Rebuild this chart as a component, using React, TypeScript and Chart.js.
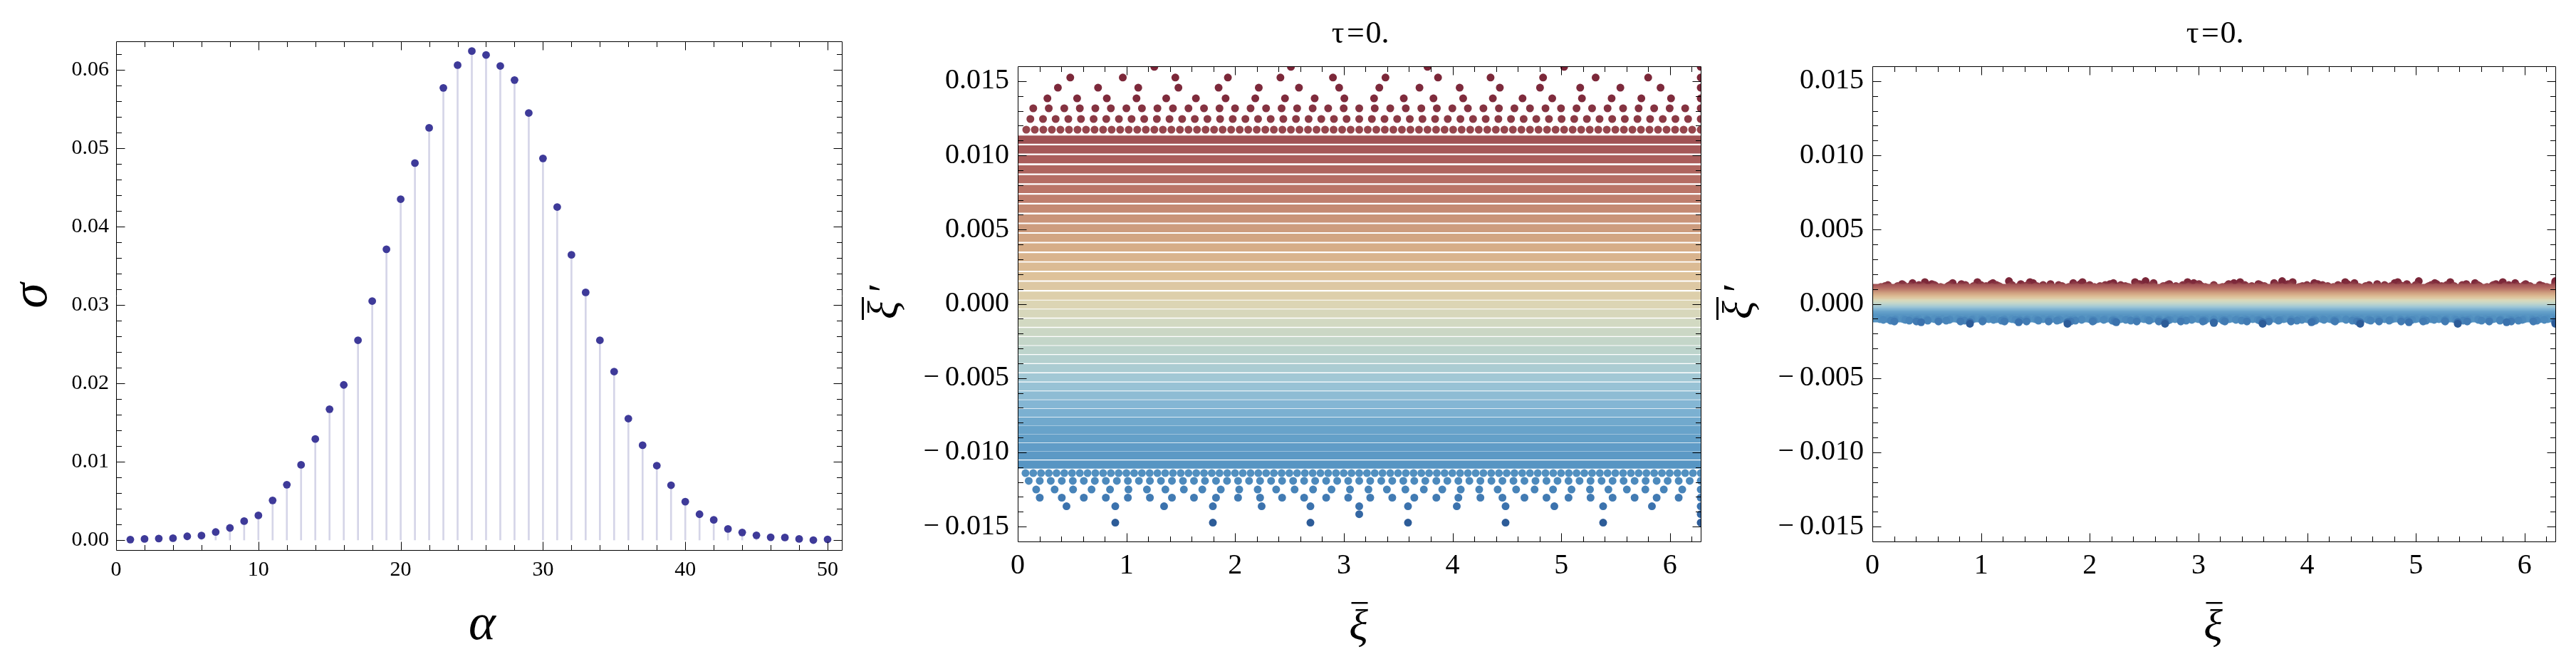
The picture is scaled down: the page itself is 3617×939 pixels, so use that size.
import React, { useEffect, useRef } from "react";
import { Chart, registerables } from "chart.js";

Chart.register(...registerables);

// ---------------- Panel 1 : sigma versus alpha ----------------
const alphaValues = [
  1, 2, 3, 4, 5, 6, 7, 8, 9, 10, 11, 12, 13, 14, 15, 16, 17, 18, 19, 20, 21, 22, 23, 24, 25,
  26, 27, 28, 29, 30, 31, 32, 33, 34, 35, 36, 37, 38, 39, 40, 41, 42, 43, 44, 45, 46, 47, 48, 49, 50,
];
const sigmaValues = [
  0.00006, 0.00015, 0.0002, 0.00024, 0.00048, 0.00058, 0.00103, 0.00155, 0.00242, 0.00315,
  0.00506, 0.00706, 0.0096, 0.0129, 0.0167, 0.0198, 0.0255, 0.0305, 0.0371, 0.0435,
  0.0481, 0.0526, 0.0577, 0.0606, 0.0624, 0.0619, 0.0605, 0.0587, 0.0545, 0.0487,
  0.0425, 0.0364, 0.0316, 0.0255, 0.0215, 0.0155, 0.0121, 0.0095, 0.007, 0.0049,
  0.0033, 0.00258, 0.00142, 0.00097, 0.00061, 0.00036, 0.00033, 0.00015, 0.0, 0.00009,
];
const p1XTicks = [0, 10, 20, 30, 40, 50];
const p1XTickLabels = ["0", "10", "20", "30", "40", "50"];
const p1YTicks = [0, 0.01, 0.02, 0.03, 0.04, 0.05, 0.06];
const p1YTickLabels = ["0.00", "0.01", "0.02", "0.03", "0.04", "0.05", "0.06"];

// ---------------- Panels 2 and 3 : orbits in the (xi, xi') plane ----------------
const xiTicks = [0, 1, 2, 3, 4, 5, 6];
const xiTickLabels = ["0", "1", "2", "3", "4", "5", "6"];
const xiPrimeTicks = [-0.015, -0.01, -0.005, 0, 0.005, 0.01, 0.015];
const xiPrimeTickLabels = [
  "\u2212\u20090.015", "\u2212\u20090.010", "\u2212\u20090.005", "0.000", "0.005", "0.010", "0.015",
];
const panelTitleParts = ["\u03c4", "=", "0."];

// level of each of the 50 orbits (top to bottom), middle panel
const orbitLevelsMiddle = [
  0.01596, 0.01524, 0.01456, 0.01384, 0.01317, 0.01245, 0.01173, 0.01106, 0.0104, 0.00974,
  0.00906, 0.00839, 0.00774, 0.00708, 0.00642, 0.00575, 0.0051, 0.00445, 0.0038, 0.00314,
  0.00251, 0.00186, 0.00121, 0.00055, -0.00005, -0.00065, -0.00127, -0.00189, -0.00251, -0.00311,
  -0.00372, -0.00433, -0.00495, -0.00556, -0.00616, -0.00675, -0.00734, -0.00793, -0.00849, -0.00906,
  -0.00964, -0.01021, -0.01082, -0.0114, -0.01192, -0.0125, -0.01305, -0.01363, -0.01416, -0.01473,
];
// level of the same orbits, right panel
const orbitLevelsRight = [
  0.00153, 0.001463, 0.001399, 0.001332, 0.001269, 0.001202, 0.001135, 0.001072, 0.00101, 0.000949,
  0.000885, 0.000822, 0.000762, 0.0007, 0.000638, 0.000576, 0.000515, 0.000454, 0.000393, 0.000332,
  0.000273, 0.000212, 0.000151, 0.000089, 0.000033, -0.000023, -0.000081, -0.000139, -0.000197, -0.000253,
  -0.00031, -0.000367, -0.000425, -0.000482, -0.000538, -0.000593, -0.000648, -0.000703, -0.000756, -0.000809,
  -0.000863, -0.000917, -0.000974, -0.001028, -0.001077, -0.001131, -0.001182, -0.001236, -0.001286, -0.001339,
];
// number of evenly spaced points each orbit shows over one period (0 = densely filled band)
const orbitPointCounts = [
  5, 13, 17, 23, 44, 54, 80, 0, 0, 0,
  0, 0, 0, 0, 0, 0, 0, 0, 0, 0,
  0, 0, 0, 0, 0, 0, 0, 0, 0, 0,
  0, 0, 0, 0, 0, 0, 0, 0, 0, 0,
  0, 0, 0, 88, 62, 37, 31, 14, 2, 7,
];

// ---------------- styles ----------------
const FONT = '"Liberation Serif", "Times New Roman", serif';
const MAJOR_LEN = 12;
const MINOR_LEN = 7.5;
const DOT_R = 5.5;
const STRIPE_W = 11.5;
const TWO_PI = 2 * Math.PI;
const orbitColorStops: [number, string][] = [
  [0, "#7a2638"], [3, "#7f2b3c"], [5, "#8b3a45"], [7, "#a05254"], [9, "#aa5d5b"],
  [12, "#ba7568"], [15, "#c99479"], [18, "#d6ad88"], [21, "#dec29a"], [24, "#dcd5b4"],
  [26, "#d2d9c2"], [29, "#bdd4cc"], [32, "#a2c8d5"], [35, "#84b6d4"], [38, "#68a3ca"],
  [41, "#5c99c5"], [43, "#5290c0"], [45, "#4884b9"], [47, "#3b72ad"], [49, "#2d5c98"],
];

function hexToRgb(h: string) {
  const n = parseInt(h.slice(1), 16);
  return [(n >> 16) & 255, (n >> 8) & 255, n & 255];
}
function orbitColor(i: number) {
  for (let k = 0; k < orbitColorStops.length - 1; k++) {
    const [i0, c0] = orbitColorStops[k];
    const [i1, c1] = orbitColorStops[k + 1];
    if (i >= i0 && i <= i1) {
      const t = (i - i0) / (i1 - i0);
      const a = hexToRgb(c0), b = hexToRgb(c1);
      const m = a.map((v, j) => Math.round(v + (b[j] - v) * t));
      return `rgb(${m[0]},${m[1]},${m[2]})`;
    }
  }
  return orbitColorStops[orbitColorStops.length - 1][1];
}

type FrameSpec = {
  xMajor: number[];
  xMinorStep: number;
  yMajor: number[];
  yMinorStep: number;
  decorate: (ctx: CanvasRenderingContext2D, a: any) => void;
};

function framePlugin(spec: FrameSpec) {
  return {
    id: "mmaFrame",
    afterDraw(chart: any) {
      const { ctx, chartArea: a, scales } = chart;
      const xs = scales.x, ys = scales.y;
      const L = Math.round(a.left) + 0.5;
      const R = Math.round(a.right) + 0.5;
      const T = Math.round(a.top) + 0.5;
      const B = Math.round(a.bottom) + 0.5;
      ctx.save();
      ctx.strokeStyle = "#000";
      ctx.lineWidth = 1;
      ctx.beginPath();
      ctx.rect(L, T, R - L, B - T);
      const isMajor = (v: number, majors: number[], step: number) =>
        majors.some((m) => Math.abs(m - v) < step * 1e-3);
      const kx0 = Math.ceil(xs.min / spec.xMinorStep - 1e-9);
      for (let k = kx0; k * spec.xMinorStep <= xs.max + 1e-12; k++) {
        const v = k * spec.xMinorStep;
        const len = isMajor(v, spec.xMajor, spec.xMinorStep) ? MAJOR_LEN : MINOR_LEN;
        const p = Math.round(xs.getPixelForValue(v)) + 0.5;
        if (p <= L + 1 || p >= R - 1) continue;
        ctx.moveTo(p, B); ctx.lineTo(p, B - len);
        ctx.moveTo(p, T); ctx.lineTo(p, T + len);
      }
      const ky0 = Math.ceil(ys.min / spec.yMinorStep - 1e-9);
      for (let k = ky0; k * spec.yMinorStep <= ys.max + 1e-12; k++) {
        const v = k * spec.yMinorStep;
        const len = isMajor(v, spec.yMajor, spec.yMinorStep) ? MAJOR_LEN : MINOR_LEN;
        const p = Math.round(ys.getPixelForValue(v)) + 0.5;
        if (p <= T + 1 || p >= B - 1) continue;
        ctx.moveTo(L, p); ctx.lineTo(L + len, p);
        ctx.moveTo(R, p); ctx.lineTo(R - len, p);
      }
      ctx.stroke();
      ctx.fillStyle = "#000";
      spec.decorate(ctx, a);
      ctx.restore();
    },
  };
}

function axisOpts(
  min: number, max: number, ticks: number[], labels: string[],
  size: number, padding: number, fitSize: number, horizontal: boolean,
) {
  return {
    type: "linear" as const,
    min, max,
    offset: false,
    grid: { display: false, drawTicks: false, offset: false },
    border: { display: false },
    ticks: {
      autoSkip: false, maxRotation: 0, minRotation: 0, padding, color: "#000",
      font: { family: FONT, size },
      callback: (_v: any, i: number) => labels[i],
    },
    afterBuildTicks: (s: any) => { s.ticks = ticks.map((value) => ({ value })); },
    afterFit: (s: any) => { if (horizontal) s.height = fitSize; else s.width = fitSize; },
  };
}

function drawXiLabels(ctx: CanvasRenderingContext2D, a: any) {
  const cx = (a.left + a.right) / 2;
  // plot label "τ=0."
  ctx.font = `44px ${FONT}`;
  ctx.textBaseline = "middle";
  ctx.textAlign = "center";
  ctx.fillText(panelTitleParts[0], cx - 30, 48);
  ctx.fillText(panelTitleParts[1], cx - 5, 48);
  ctx.textAlign = "left";
  ctx.fillText(panelTitleParts[2], cx + 9, 48);
  // x label: xi with overbar
  ctx.textAlign = "center";
  ctx.font = `italic 62px ${FONT}`;
  ctx.textBaseline = "alphabetic";
  ctx.fillText("\u03be", cx - 1, 898);
  ctx.fillRect(cx - 11, 845, 23, 2.5);
  // y label: xi-bar prime, rotated
  ctx.save();
  ctx.translate(a.left - 169, 448);
  ctx.rotate(-Math.PI / 2);
  ctx.textAlign = "left";
  ctx.font = `italic 60px ${FONT}`;
  ctx.fillText("\u03be", 0, 0);
  ctx.fillText("\u2032", 34, 0);
  ctx.fillRect(-1, -50, 32, 3);
  ctx.restore();
}

function orbitDatasets(levels: number[]) {
  return levels.map((level, i) => {
    const n = orbitPointCounts[i];
    const color = orbitColor(i);
    if (n === 0) {
      return {
        data: [{ x: 0, y: level }, { x: TWO_PI, y: level }],
        showLine: true, borderColor: color, backgroundColor: color,
        borderWidth: STRIPE_W, pointRadius: 0, clip: 0, order: 100 - i,
      };
    }
    const data: { x: number; y: number }[] = [];
    for (let j = 1; j <= n; j++) data.push({ x: (TWO_PI * j) / n, y: level });
    return {
      data, showLine: false, pointRadius: DOT_R, pointBorderWidth: 0,
      pointBackgroundColor: color, backgroundColor: color, borderColor: color,
      clip: 0, order: 100 - i,
    };
  });
}

function basePlugins() {
  return { legend: { display: false }, tooltip: { enabled: false }, title: { display: false } };
}

function makeSigmaConfig(): any {
  return {
    type: "scatter",
    data: {
      datasets: [
        {
          type: "bar",
          data: alphaValues.map((x, i) => ({ x, y: sigmaValues[i] })),
          backgroundColor: "#d5d5e8", barThickness: 2, borderWidth: 0, order: 2,
        },
        {
          type: "scatter",
          data: alphaValues.map((x, i) => ({ x, y: sigmaValues[i] })),
          pointRadius: 5.4, pointBorderWidth: 0,
          pointBackgroundColor: "#3e3a99", backgroundColor: "#3e3a99", order: 1,
        },
      ],
    },
    options: {
      responsive: false, maintainAspectRatio: false, animation: false, events: [],
      layout: { autoPadding: false, padding: { left: 0, top: 58, right: 28, bottom: 0 } },
      plugins: basePlugins(),
      scales: {
        x: axisOpts(0, 51, p1XTicks, p1XTickLabels, 30, 10, 939 - 772, true),
        y: axisOpts(-0.00127, 0.06364, p1YTicks, p1YTickLabels, 30, 10, 163, false),
      },
    },
    plugins: [
      framePlugin({
        xMajor: p1XTicks, xMinorStep: 2, yMajor: p1YTicks, yMinorStep: 0.002,
        decorate: (ctx, a) => {
          ctx.font = `italic 72px ${FONT}`;
          ctx.textAlign = "center";
          ctx.textBaseline = "alphabetic";
          ctx.fillText("\u03b1", 677, 897);
          ctx.save();
          ctx.translate(65, (a.top + a.bottom) / 2);
          ctx.rotate(-Math.PI / 2);
          ctx.fillText("\u03c3", 0, 0);
          ctx.restore();
        },
      }),
    ],
  };
}

function makeOrbitConfig(levels: number[], yWidth: number, padRight: number): any {
  return {
    type: "scatter",
    data: { datasets: orbitDatasets(levels) },
    options: {
      responsive: false, maintainAspectRatio: false, animation: false, events: [],
      layout: { autoPadding: false, padding: { left: 0, top: 93, right: padRight, bottom: 0 } },
      plugins: basePlugins(),
      scales: {
        x: axisOpts(0, TWO_PI, xiTicks, xiTickLabels, 40, 10, 939 - 760, true),
        y: axisOpts(-0.016, 0.016, xiPrimeTicks, xiPrimeTickLabels, 40, 12, yWidth, false),
      },
    },
    plugins: [
      framePlugin({
        xMajor: xiTicks, xMinorStep: 0.2, yMajor: xiPrimeTicks, yMinorStep: 0.001,
        decorate: (ctx, a) => drawXiLabels(ctx, a),
      }),
    ],
  };
}

function ChartCanvas(props: { left: number; width: number; height: number; make: () => any }) {
  const ref = useRef<HTMLCanvasElement>(null);
  useEffect(() => {
    const chart = new Chart(ref.current as HTMLCanvasElement, props.make());
    return () => chart.destroy();
  }, []);
  return (
    <canvas
      ref={ref}
      width={props.width}
      height={props.height}
      style={{ position: "absolute", left: props.left, top: 0, width: props.width, height: props.height }}
    />
  );
}

export default function App() {
  return (
    <div
      style={{
        position: "absolute", left: 0, top: 0, width: 3617, height: 939,
        overflow: "hidden", background: "#fff",
      }}
    >
      <ChartCanvas left={0} width={1210} height={939} make={makeSigmaConfig} />
      <ChartCanvas
        left={1210} width={1200} height={939}
        make={() => makeOrbitConfig(orbitLevelsMiddle, 219, 22)}
      />
      <ChartCanvas
        left={2410} width={1207} height={939}
        make={() => makeOrbitConfig(orbitLevelsRight, 219, 29)}
      />
    </div>
  );
}
